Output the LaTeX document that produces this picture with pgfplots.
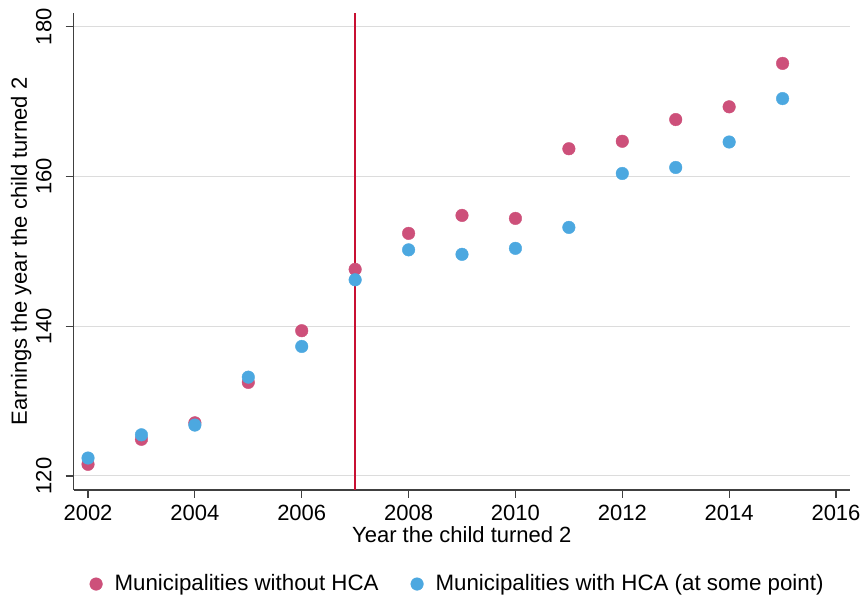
\documentclass[border=0pt]{standalone}
\usepackage{pgfplots}
\pgfplotsset{compat=1.18}
\usepackage{fontspec}
\setmainfont{Liberation Sans}
\definecolor{pinkc}{RGB}{205,80,122}
\definecolor{bluec}{RGB}{76,168,224}
\definecolor{vline}{RGB}{200,16,50}
\definecolor{gridc}{RGB}{220,220,220}
\begin{document}
\fontsize{22}{26}\selectfont
\begin{tikzpicture}[x=1pt,y=1pt]
\path[use as bounding box] (0,0) rectangle (862,599);
\begin{axis}[
  at={(73.7pt,109pt)}, anchor=south west,
  scale only axis, width=776.3pt, height=477.3pt,
  xmin=2001.732, xmax=2016.262, ymin=118.13, ymax=181.87,
  axis x line*=bottom, axis y line*=left,
  xtick pos=bottom, ytick pos=left,
  axis line style={black!75, line width=1.2pt, -},
  xtick={2002,2004,...,2016}, ytick={120,140,160,180},
  tick align=outside, major tick length=8pt,
  every tick/.style={black!75, line width=1.2pt},
  ymajorgrids, grid style={gridc, line width=1pt},
  /pgf/number format/assume math mode=true,
  /pgf/number format/1000 sep={},
  ticklabel style={font=\fontsize{22}{26}\selectfont},
  yticklabel style={rotate=90, anchor=south, inner sep=0pt, yshift=14pt},
  xticklabel style={inner sep=0pt, yshift=-7pt},
  xlabel={Year the child turned 2},
  ylabel={Earnings the year the child turned 2},
  label style={font=\fontsize{22}{26}\selectfont},
  xlabel style={at={(axis description cs:0.5,-0.077)}, anchor=north, inner sep=0pt},
  ylabel style={at={(axis description cs:-0.0542,0.5)}, anchor=south, inner sep=0pt},
  legend columns=2,
  legend style={draw=none, at={(axis description cs:0.5009,-0.197)}, anchor=center,
    font=\fontsize{22.3}{26}\selectfont,
    nodes={inner xsep=12pt},
    /tikz/every even column/.append style={column sep=20pt}},
  legend cell align=left,
  legend image code/.code={\fill[#1] (0pt,0pt) circle (6.3pt);},
]
\addplot[vline, line width=1.5pt, forget plot] coordinates {(2007,118.13) (2007,181.87)};
\addplot[only marks, mark=*, mark size=6.3pt, pinkc, mark options={draw=none, fill=pinkc}] coordinates {
(2002,121.56) (2003,124.9) (2004,127.1) (2005,132.5) (2006,139.4) (2007,147.6)
(2008,152.4) (2009,154.8) (2010,154.4) (2011,163.7) (2012,164.7) (2013,167.6)
(2014,169.3) (2015,175.1)};
\addlegendentry{Municipalities without HCA}
\addplot[only marks, mark=*, mark size=6.3pt, bluec, mark options={draw=none, fill=bluec}] coordinates {
(2002,122.4) (2003,125.5) (2004,126.8) (2005,133.2) (2006,137.3) (2007,146.2)
(2008,150.2) (2009,149.6) (2010,150.4) (2011,153.2) (2012,160.4) (2013,161.2)
(2014,164.6) (2015,170.4)};
\addlegendentry{Municipalities with HCA (at some point)}
\end{axis}
\end{tikzpicture}
\end{document}
